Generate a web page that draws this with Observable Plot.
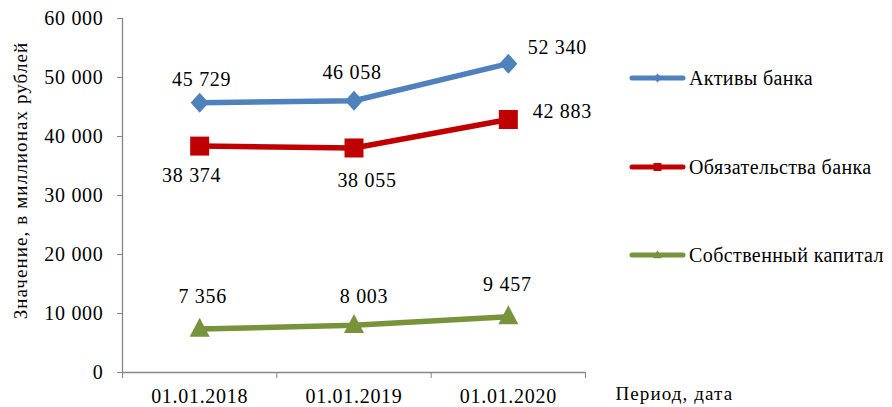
<!DOCTYPE html>
<html>
<head>
<meta charset="utf-8">
<script src="https://cdn.jsdelivr.net/npm/d3@7"></script>
<script src="https://cdn.jsdelivr.net/npm/@observablehq/plot@0.6"></script>
<style>
  html, body { margin: 0; padding: 0; background: #fff; font-family: "Liberation Serif"; }
  #wrap { position: relative; width: 892px; height: 407px; }
  #wrap svg text { letter-spacing: 0.7px; }
  #legend { position: absolute; left: 0; top: 0; pointer-events: none; }
</style>
</head>
<body>
<div id="wrap"></div>
<script>
// Reporting dates (x categories)
const dates = ["01.01.2018", "01.01.2019", "01.01.2020"];

// Series names and values, millions of rubles
const seriesNames = ["Активы банка", "Обязательства банка", "Собственный капитал"];
const assets      = [45729, 46058, 52340];
const liabilities = [38374, 38055, 42883];
const equity      = [7356, 8003, 9457];

// Y axis ticks
const yTicks = [0, 10000, 20000, 30000, 40000, 50000, 60000];

// Axis titles
const yTitle = "Значение, в миллионах рублей";
const xTitle = "Период, дата";

// Series styling
const colors = ["#4F81BD", "#C00000", "#77933C"];

// Custom marker shapes (size argument ignored, fixed pixel geometry)
const diamond = (w, h) => ({draw(ctx) { ctx.moveTo(0, -h / 2); ctx.lineTo(w / 2, 0); ctx.lineTo(0, h / 2); ctx.lineTo(-w / 2, 0); ctx.closePath(); }});
const square = (s) => ({draw(ctx) { ctx.rect(-s / 2, -s / 2, s, s); }});
const triangle = (w, h) => ({draw(ctx) { ctx.moveTo(0, -h * 0.6); ctx.lineTo(w / 2, h * 0.4); ctx.lineTo(-w / 2, h * 0.4); ctx.closePath(); }});
const symbols = [diamond(18, 20), square(19), triangle(20, 19)];

// Value label placement per series and date (dx, dy relative to the point)
const labelOffsets = [
  [[2, -17], [-2, -22], [49, -10]],
  [[-8, 36], [13, 39], [54, -1]],
  [[3, -26], [10, -22], [-1, -26]]
];

const fmt = d3.formatLocale({thousands: " ", grouping: [3], decimal: ","}).format(",");

const values = [assets, liabilities, equity];
const rows = [];
values.forEach((vals, s) => vals.forEach((v, i) => rows.push({s, name: seriesNames[s], date: dates[i], i, pos: i + 0.5, value: v})));

const serifFace = "Liberation Serif";
const axisColor = "#868686";
const txt = {fill: "#000", fontFamily: serifFace};

const marks = [
  Plot.ruleX([0], {y1: 0, y2: 60000, stroke: axisColor, strokeWidth: 1.3}),
  Plot.ruleY([0], {stroke: axisColor, strokeWidth: 1.3}),
  Plot.axisY({ticks: yTicks, tickSize: 5, tickPadding: 14, tickFormat: fmt, stroke: axisColor, label: null, fontSize: 20, ...txt}),
  Plot.axisX({ticks: [0, 1, 2, 3], tickSize: 6, tickFormat: () => "", stroke: axisColor, label: null}),
  Plot.axisX({ticks: [0.5, 1.5, 2.5], tickSize: 0, tickPadding: 16, tickFormat: d => dates[Math.floor(d)], label: null, fontSize: 20, ...txt}),
  Plot.text([yTitle], {frameAnchor: "left", textAnchor: "middle", lineAnchor: "middle", rotate: -90, dx: -102, dy: -15, fontSize: 19, ...txt}),
  Plot.text([xTitle], {frameAnchor: "bottom-right", textAnchor: "start", lineAnchor: "bottom", dx: 30, dy: 27, fontSize: 19, ...txt})
];

values.forEach((vals, s) => {
  const data = rows.filter(r => r.s === s);
  marks.push(Plot.line(data, {x: "pos", y: "value", stroke: colors[s], strokeWidth: 5.5, strokeLinejoin: "round"}));
  marks.push(Plot.dot(data, {x: "pos", y: "value", fill: colors[s], stroke: "none", symbol: symbols[s], r: 5}));
  data.forEach((row, i) => {
    const [dx, dy] = labelOffsets[s][i];
    marks.push(Plot.text([row], {x: "pos", y: "value", text: d => fmt(d.value), dx, dy, lineAnchor: "bottom", fontSize: 20, ...txt}));
  });
});

const chart = Plot.plot({
  width: 892,
  height: 407,
  marginLeft: 122,
  marginRight: 307,
  marginTop: 18,
  marginBottom: 35,
  style: {fontFamily: serifFace, fontSize: "20px"},
  x: {domain: [0, 3], axis: null},
  y: {domain: [0, 60000], axis: null},
  marks
});

const wrap = document.getElementById("wrap");
wrap.appendChild(chart);

// Wider tracking for the axis titles
d3.select(chart).selectAll("text")
  .filter(function() { return this.textContent === yTitle || this.textContent === xTitle; })
  .style("letter-spacing", "1.1px");

// Legend: swatch line with a small marker and series name
const legend = d3.select(wrap).append("svg")
  .attr("id", "legend").attr("width", 892).attr("height", 407);
const legendY = [78, 167, 255];
const smallSymbols = [diamond(8, 9), square(8), triangle(9, 8)];
seriesNames.forEach((name, s) => {
  const g = legend.append("g").attr("transform", `translate(0,${legendY[s]})`);
  g.append("line").attr("x1", 632).attr("x2", 683).attr("y1", 0).attr("y2", 0)
    .attr("stroke", colors[s]).attr("stroke-width", 5).attr("stroke-linecap", "round");
  g.append("path").attr("transform", "translate(657.5,0)")
    .attr("d", d3.symbol(smallSymbols[s])()).attr("fill", colors[s]);
  g.append("text").attr("x", 689).attr("y", 7)
    .style("font-family", `"${serifFace}"`).style("font-size", "20px").style("letter-spacing", "0.4px")
    .attr("fill", "#000").text(name);
});
</script>
</body>
</html>
